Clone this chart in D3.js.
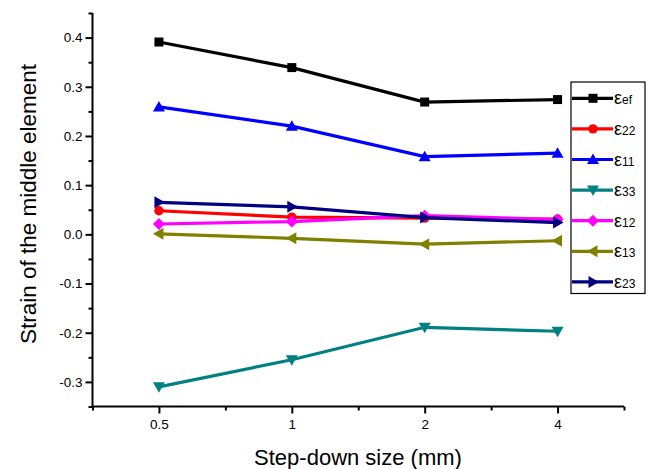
<!DOCTYPE html>
<html><head><meta charset="utf-8">
<script src="https://cdn.jsdelivr.net/npm/d3@7"></script>
<style>body{margin:0;background:#fff}svg{display:block;font-family:"Liberation Sans",Arial,sans-serif}</style>
</head><body><svg id="c" width="649" height="469"></svg>
<script>
const categories = ["0.5", "1", "2", "4"];
const eef = [0.391, 0.339, 0.269, 0.274];
const e22 = [0.048, 0.035, 0.033, 0.031];
const e11 = [0.259, 0.220, 0.158, 0.165];
const e33 = [-0.310, -0.255, -0.189, -0.197];
const e12 = [0.021, 0.026, 0.038, 0.030];
const e13 = [0.001, -0.008, -0.020, -0.013];
const e23 = [0.065, 0.056, 0.034, 0.024];
const seriesNames = ["ef", "22", "11", "33", "12", "13", "23"];
const yTicks = [-0.3, -0.2, -0.1, 0.0, 0.1, 0.2, 0.3, 0.4];

const series = [
  {sub: seriesNames[0], vals: eef, color: "#000000", shape: "square"},
  {sub: seriesNames[1], vals: e22, color: "#ff0000", shape: "circle"},
  {sub: seriesNames[2], vals: e11, color: "#0000ff", shape: "up"},
  {sub: seriesNames[3], vals: e33, color: "#008080", shape: "down"},
  {sub: seriesNames[4], vals: e12, color: "#ff00ff", shape: "diamond"},
  {sub: seriesNames[5], vals: e13, color: "#808000", shape: "left"},
  {sub: seriesNames[6], vals: e23, color: "#000080", shape: "right"}
];

const svg = d3.select("#c");
const L = 92.5, R = 624, T = 13, B = 406.5;
const x = d3.scaleLinear().domain([-0.5, categories.length - 0.5]).range([L, R]);
const y = d3.scaleLinear().domain([-0.35, 0.45]).range([B, T]);

function markerPath(shape) {
  switch (shape) {
    case "square": return "M-4.5,-4.5H4.5V4.5H-4.5Z";
    case "circle": return d3.symbol(d3.symbolCircle, 70)();
    case "up": return "M0,-6L6,4.5L-6,4.5Z";
    case "down": return "M0,6L6,-4.5L-6,-4.5Z";
    case "left": return "M-6,0L4.5,-6L4.5,6Z";
    case "right": return "M6,0L-4.5,-6L-4.5,6Z";
    case "diamond": return "M0,-6L6,0L0,6L-6,0Z";
  }
}

// Axes
const fmt = v => (v < 0 ? "-" : "") + Math.abs(v).toFixed(1);
const yAxis = d3.axisLeft(y).tickValues(yTicks).tickFormat(fmt).tickSize(7).tickPadding(3);
const yMinor = d3.axisLeft(y).tickValues(d3.range(-7, 10, 2).map(k => k * 0.05)).tickFormat("").tickSize(4);
const xAxis = d3.axisBottom(x).tickValues(d3.range(categories.length)).tickFormat(i => categories[i]).tickSize(7).tickPadding(6);
const xMinor = d3.axisBottom(x).tickValues(d3.range(-0.5, categories.length, 1)).tickFormat("").tickSize(4);

function styleAxis(g) {
  g.select(".domain").attr("stroke", "#000").attr("stroke-width", 2);
  g.selectAll(".tick line").attr("stroke", "#000").attr("stroke-width", 2);
  g.selectAll(".tick text").attr("font-size", 13.5).attr("fill", "#000").attr("font-family", "Liberation Sans, Arial, sans-serif");
}
svg.append("g").attr("transform", `translate(${L},0)`).call(yMinor).call(styleAxis).select(".domain").remove();
svg.append("g").attr("transform", `translate(0,${B})`).call(xMinor).call(styleAxis).select(".domain").remove();
svg.append("g").attr("transform", `translate(${L},0)`).call(yAxis).call(g => { styleAxis(g); g.select(".domain").attr("d", `M0,${T}V${B}`); });
svg.append("g").attr("transform", `translate(0,${B})`).call(xAxis).call(g => { styleAxis(g); g.select(".domain").attr("d", `M${L},0H${R}`); });

// Titles
svg.append("text").attr("x", 358).attr("y", 465).attr("text-anchor", "middle")
  .attr("font-size", 22).text("Step-down size (mm)");
svg.append("text").attr("transform", "translate(36,204) rotate(-90)").attr("text-anchor", "middle")
  .attr("font-size", 22.5).text("Strain of the middle element");

// Series
const line = d3.line().x((d, i) => x(i)).y(d => y(d));
series.forEach(s => {
  const g = svg.append("g");
  g.append("path").attr("d", line(s.vals)).attr("fill", "none").attr("stroke", s.color).attr("stroke-width", 3.2);
  g.selectAll("path.m").data(s.vals).join("path").attr("class", "m")
    .attr("d", markerPath(s.shape)).attr("fill", s.color)
    .attr("transform", (d, i) => `translate(${x(i)},${y(d)})`);
});

// Legend
const lx = 571, ly = 82, lw = 74, lh = 211.5, step = 30.6;
svg.append("rect").attr("x", lx).attr("y", ly).attr("width", lw).attr("height", lh)
  .attr("fill", "#fff").attr("stroke", "#000").attr("stroke-width", 1.2);
series.forEach((s, i) => {
  const cy = 98.3 + i * step;
  const g = svg.append("g");
  g.append("line").attr("x1", lx + 1).attr("x2", lx + 42).attr("y1", cy).attr("y2", cy)
    .attr("stroke", s.color).attr("stroke-width", 3.2);
  g.append("path").attr("d", markerPath(s.shape)).attr("fill", s.color)
    .attr("transform", `translate(${lx + 22},${cy})`);
  const t = g.append("text").attr("x", lx + 43).attr("y", cy + 6).attr("fill", "#000");
  t.append("tspan").attr("font-size", 18).text("ε");
  t.append("tspan").attr("font-size", 12).text(s.sub);
});
</script></body></html>
